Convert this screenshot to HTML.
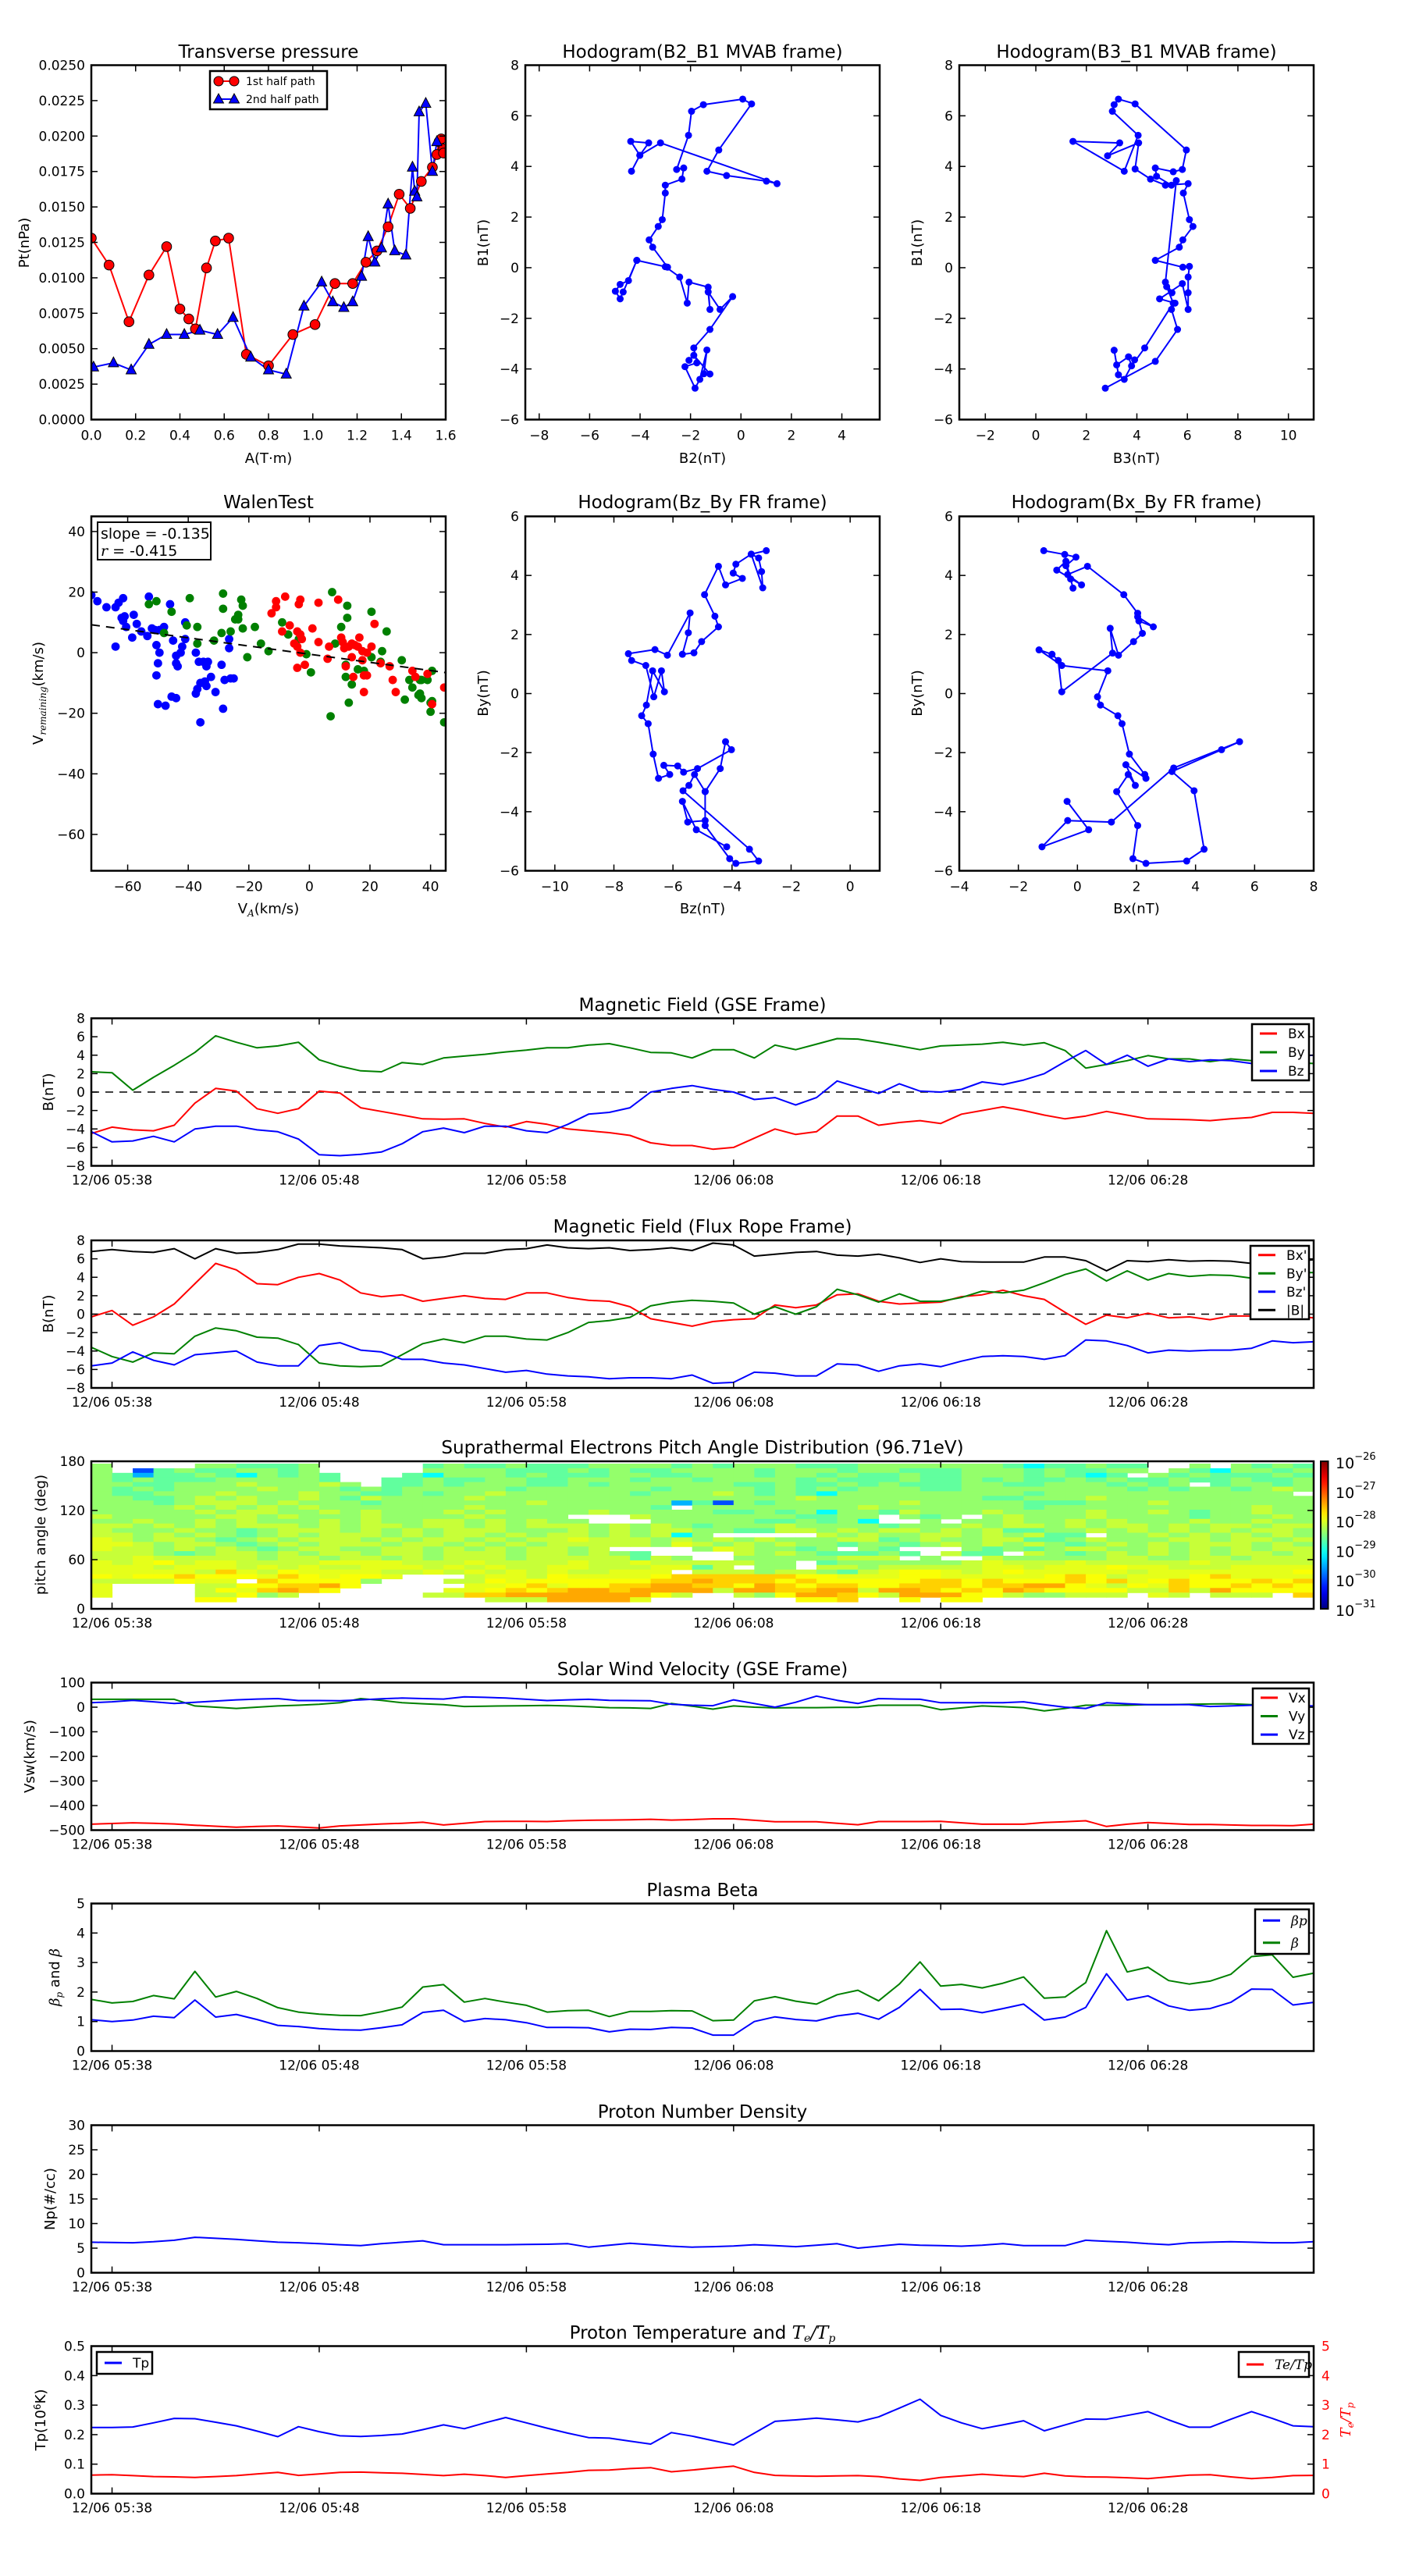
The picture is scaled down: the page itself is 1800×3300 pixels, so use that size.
<!DOCTYPE html>
<html><head><meta charset="utf-8"><title>Flux rope analysis</title>
<style>
html,body{margin:0;padding:0;background:#fff;}
svg{display:block;}
text{font-family:"DejaVu Sans","Liberation Sans",sans-serif;fill:#000;}
.ti{font-size:23px;}
.lb{font-size:18px;}
.lg{font-size:15px;}
.it{font-family:"DejaVu Serif","Liberation Serif",serif;font-style:italic;}
</style></head>
<body>
<svg id="fig" xmlns="http://www.w3.org/2000/svg" width="1800" height="3300" viewBox="0 0 1800 3300">
<rect x="0" y="0" width="1800" height="3300" fill="#fff"/>
<defs id="defs"></defs>
<text class="ti" x="344" y="74" text-anchor="middle">Transverse pressure</text>
<text class="ti" x="900" y="74" text-anchor="middle">Hodogram(B2_B1 MVAB frame)</text>
<text class="ti" x="1456" y="74" text-anchor="middle">Hodogram(B3_B1 MVAB frame)</text>
<text class="lb" x="344" y="593" text-anchor="middle">A(T·m)</text>
<text class="lb" x="900" y="593" text-anchor="middle">B2(nT)</text>
<text class="lb" x="1456" y="593" text-anchor="middle">B3(nT)</text>
<text class="lb" transform="translate(37,311) rotate(-90)" text-anchor="middle">Pt(nPa)</text>
<text class="lb" transform="translate(625,311) rotate(-90)" text-anchor="middle">B1(nT)</text>
<text class="lb" transform="translate(1181,311) rotate(-90)" text-anchor="middle">B1(nT)</text>
<text class="ti" x="344" y="651" text-anchor="middle">WalenTest</text>
<text class="ti" x="900" y="651" text-anchor="middle">Hodogram(Bz_By FR frame)</text>
<text class="ti" x="1456" y="651" text-anchor="middle">Hodogram(Bx_By FR frame)</text>
<text class="lb" x="344" y="1170" text-anchor="middle">V<tspan class="it" font-size="12" dy="4">A</tspan><tspan dy="-4">(km/s)</tspan></text>
<text class="lb" x="900" y="1170" text-anchor="middle">Bz(nT)</text>
<text class="lb" x="1456" y="1170" text-anchor="middle">Bx(nT)</text>
<text class="lb" transform="translate(55,888) rotate(-90)" text-anchor="middle">V<tspan class="it" font-size="12" dy="4">remaining</tspan><tspan dy="-4">(km/s)</tspan></text>
<text class="lb" transform="translate(625,888) rotate(-90)" text-anchor="middle">By(nT)</text>
<text class="lb" transform="translate(1181,888) rotate(-90)" text-anchor="middle">By(nT)</text>
<text class="ti" x="900" y="1295" text-anchor="middle">Magnetic Field (GSE Frame)</text>
<text class="ti" x="900" y="1579" text-anchor="middle">Magnetic Field (Flux Rope Frame)</text>
<text class="ti" x="900" y="1862" text-anchor="middle">Suprathermal Electrons Pitch Angle Distribution (96.71eV)</text>
<text class="ti" x="900" y="2146" text-anchor="middle">Solar Wind Velocity (GSE Frame)</text>
<text class="ti" x="900" y="2429" text-anchor="middle">Plasma Beta</text>
<text class="ti" x="900" y="2713" text-anchor="middle">Proton Number Density</text>
<text class="ti" x="900" y="2996" text-anchor="middle">Proton Temperature and <tspan class="it">T<tspan font-size="14" dy="4">e</tspan><tspan dy="-4">/T</tspan><tspan font-size="14" dy="4">p</tspan></tspan></text>
<text class="lb" transform="translate(68,1399) rotate(-90)" text-anchor="middle">B(nT)</text>
<text class="lb" transform="translate(68,1683) rotate(-90)" text-anchor="middle">B(nT)</text>
<text class="lb" transform="translate(58,1966) rotate(-90)" text-anchor="middle">pitch angle (deg)</text>
<text class="lb" transform="translate(44,2250) rotate(-90)" text-anchor="middle">Vsw(km/s)</text>
<text class="lb" transform="translate(76,2533) rotate(-90)" text-anchor="middle"><tspan class="it">β<tspan font-size="12" dy="4">p</tspan></tspan><tspan dy="-4"> and </tspan><tspan class="it">β</tspan></text>
<text class="lb" transform="translate(70,2817) rotate(-90)" text-anchor="middle">Np(#/cc)</text>
<text class="lb" transform="translate(58,3100) rotate(-90)" text-anchor="middle">Tp(10<tspan font-size="12" dy="-6">6</tspan><tspan dy="6">K)</tspan></text>
<text class="lb it" transform="translate(1730,3100) rotate(-90)" text-anchor="middle" fill="#ff0000" style="fill:#f00">T<tspan font-size="12" dy="4">e</tspan><tspan dy="-4">/T</tspan><tspan font-size="12" dy="4">p</tspan></text>
<g id="plots"></g>
</svg>
<script>
const ptA1 = [0.0,0.08,0.17,0.26,0.34,0.40,0.44,0.47,0.52,0.56,0.62,0.70,0.80,0.91,1.01,1.10,1.18,1.24,1.29,1.34,1.39,1.44,1.49,1.54,1.56,1.57,1.58,1.59,1.59];
const ptP1 = [0.0128,0.0109,0.0069,0.0102,0.0122,0.0078,0.0071,0.0064,0.0107,0.0126,0.0128,0.0046,0.0038,0.0060,0.0067,0.0096,0.0096,0.0111,0.0119,0.0136,0.0159,0.0149,0.0168,0.0178,0.0187,0.0196,0.0198,0.0191,0.0188];
const ptA2 = [0.01,0.10,0.18,0.26,0.34,0.42,0.49,0.57,0.64,0.72,0.80,0.88,0.96,1.04,1.09,1.14,1.18,1.22,1.25,1.28,1.31,1.34,1.37,1.42,1.45,1.46,1.47,1.48,1.51,1.54,1.56];
const ptP2 = [0.0037,0.0040,0.0035,0.0053,0.0060,0.0060,0.0063,0.0060,0.0072,0.0044,0.0035,0.0032,0.0080,0.0097,0.0083,0.0079,0.0083,0.0101,0.0129,0.0111,0.0121,0.0152,0.0119,0.0116,0.0178,0.0161,0.0157,0.0217,0.0223,0.0175,0.0196];
const hB2 = [-4.34,-4.01,-4.37,-3.66,-4.01,-3.19,1.43,1.01,-0.57,-1.35,-0.88,0.42,0.07,-1.49,-1.96,-2.08,-2.55,-2.27,-2.34,-3.0,-3.0,-3.12,-3.28,-3.64,-3.50,-2.91,-4.13,-4.46,-4.79,-4.98,-4.79,-4.67,-4.13,-3.0,-2.43,-2.13,-2.06,-1.30,-1.23,-1.30,-0.83,-0.33,-1.23,-1.87,-1.75,-2.22,-1.82,-1.63,-1.35,-1.47,-1.23,-1.87,-2.06];
const hB1a = [3.81,4.44,4.99,4.93,4.44,4.93,3.32,3.42,3.64,3.81,4.65,6.47,6.66,6.44,6.18,5.23,3.88,3.94,3.50,3.26,2.95,1.90,1.63,1.10,0.81,0.02,0.29,-0.51,-0.66,-0.93,-1.23,-0.96,0.29,0.04,-0.37,-1.40,-0.57,-0.77,-1.65,-0.96,-1.65,-1.14,-2.44,-3.17,-3.76,-3.91,-4.76,-4.41,-3.25,-4.19,-4.20,-3.46,-3.66];
const hB3 = [2.75,4.73,5.61,5.37,5.51,4.90,5.80,6.03,6.03,6.03,6.08,5.82,4.73,5.68,5.82,6.22,6.08,5.84,6.03,5.13,4.54,3.93,4.07,2.84,3.32,1.47,3.50,4.05,3.03,3.10,3.27,3.93,5.96,5.80,5.44,4.73,4.78,5.37,5.56,5.13,5.39,5.18,5.44,4.31,3.79,3.67,3.20,3.10,3.27,3.50,3.91];
const hB1b = [-4.76,-3.70,-2.44,-1.65,-1.40,-1.23,-0.63,-1.65,-0.99,-0.37,0.05,0.02,0.29,0.81,1.10,1.63,1.90,2.95,3.32,3.26,3.50,3.90,4.93,4.42,4.93,4.99,3.81,5.23,6.18,6.44,6.66,6.47,4.65,3.88,3.79,3.94,3.61,3.26,3.44,-0.57,-0.99,-0.75,-1.40,-3.17,-3.88,-3.52,-3.84,-3.26,-4.23,-4.41,-3.64];
const hBz = [-2.84,-3.35,-3.10,-3.0,-2.96,-3.35,-3.87,-3.96,-3.65,-4.22,-4.46,-4.93,-4.58,-4.46,-5.03,-5.29,-5.68,-5.48,-5.42,-6.19,-6.61,-7.51,-7.40,-6.92,-6.65,-6.39,-6.29,-6.69,-6.90,-7.06,-6.84,-6.67,-6.49,-6.11,-6.31,-5.84,-5.64,-5.17,-4.02,-4.22,-4.40,-4.91,-5.27,-5.46,-5.66,-3.41,-3.10,-3.87,-4.08,-4.91,-4.91,-4.91,-5.50,-5.68,-5.21,-4.18];
const hBy1 = [4.84,4.72,4.59,4.13,3.58,4.72,4.38,4.08,3.90,3.68,4.31,3.35,2.62,2.26,1.76,1.38,1.33,2.06,2.73,1.30,1.49,1.35,1.12,0.95,-0.11,0.77,0.06,0.77,-0.39,-0.75,-1.02,-2.05,-2.87,-2.74,-2.43,-2.45,-2.66,-2.54,-1.90,-1.63,-2.54,-3.32,-2.74,-3.11,-3.29,-5.27,-5.67,-5.75,-5.59,-4.47,-3.32,-4.30,-4.35,-3.65,-4.61,-5.19];
const hBx = [-1.14,-0.43,-0.05,-0.39,-0.23,-0.15,-0.39,-0.70,0.14,-0.33,0.34,1.57,2.04,2.04,2.57,2.08,2.20,1.90,1.39,1.11,1.19,-0.53,-0.65,-0.86,-1.30,-0.53,1.03,0.68,0.78,1.37,1.51,1.76,2.28,2.32,1.64,1.96,1.72,1.33,2.04,1.88,2.32,3.70,4.29,3.95,3.20,4.88,5.49,3.26,1.15,-0.33,-1.20,0.38,-0.35];
const hBy2 = [4.84,4.71,4.62,4.33,3.88,3.57,4.48,4.18,3.68,4.03,4.31,3.35,2.72,2.60,2.26,2.46,2.04,1.76,1.30,2.21,1.37,0.06,1.12,1.33,1.48,0.95,0.77,-0.11,-0.39,-0.75,-1.02,-2.05,-2.74,-2.87,-2.41,-3.11,-2.74,-3.32,-4.47,-5.59,-5.75,-5.67,-5.27,-3.29,-2.64,-1.90,-1.63,-2.52,-4.35,-4.30,-5.19,-4.61,-3.65];
const wBx = [-72,-70,-67,-64,-63,-61.5,-62,-61,-61.5,-60.5,-58,-57,-58.5,-64,-55.5,-53.5,-53,-52,-51,-49.5,-48,-50.5,-49.5,-50,-50.5,-50,-47.5,-46,-45,-44,-42.5,-44,-43.5,-42,-41,-41,-45.5,-44,-37.5,-36.5,-35,-34,-33.5,-36,-37,-37.5,-34.5,-34,-32.5,-31,-29,-28,-28.5,-26.5,-26.5,-26,-25,-36];
const wBy = [19,17,15,15,16.5,18,11.5,12,10.5,8.5,12.5,9.5,5,2,7,5.5,18.5,8,7.5,7.5,8.5,2.5,0,-3.5,-7.5,-17,-17.5,16,4,-1,0,-3.5,-4.5,2,10,4.5,-14.5,-15,0,-3,-3,-4.5,-3,-10,-12,-13.5,-9.5,-11,-8,-13,-4,-9,-18.5,4.5,1.5,-8.5,-8.5,-23];
const wGx = [-53,-50.5,-48,-45.5,-39.5,-40.5,-37,-37,-31.5,-29,-28.5,-28.5,-26,-24.5,-23.5,-23.5,-22.5,-22,-22,-20.5,-18,-16,-13.5,-9,-7,-3.5,-1,0.5,7.5,7,10.5,8.5,12.5,12.5,12,12,13,14,16,18,20.5,20.5,23.5,24,25.5,30.5,31.5,33,34,36,36.5,37,37,39,40,40,40.5,40.5,44.5,36.5];
const wGy = [16,17,6.5,13.5,18,9,8.5,3,4,6.5,19.5,14.5,7,11,12.5,11,17.5,15.5,8,-1.5,8.5,3,0.5,10,6,4.5,-0.5,-6.5,20,-21,8.5,3,15.5,11.5,-4,-8,-16.5,-10.5,-5.5,-6,13.5,-1.5,-3,0.5,7,-2.5,-15.5,-9,-11.5,-14,-13.5,-15,-9,-9,-16.5,-19.5,-16,-6,-23,-9];
const wRx = [-12.5,-11,-11,-8,-9,-6.5,-3,-3.5,-4,-3,-2.5,-5,-4,-3,-4,-1.5,1,3,3,6.5,6,9.5,10.5,11,11.5,13,14,14,15,16,16.5,17.5,17.5,18,19,18,14.5,19,20.5,21.5,23.5,26.5,27.5,28.5,34,35,39,40.5,44.5,12];
const wRy = [13,17,15,18.5,7,9,17.5,16,7,6,4.5,3,2,0,-5,-4,8,16.5,3.5,2,-2,17.5,5,3.5,1.5,2,3,-1.5,2.5,2,5,0.5,-2.5,-7.5,-7.5,-13,-8,0,2,9.5,-3.5,-4.5,-9,-13,-6,-8,-7,-17,-11.5,-4.5];
const walenSlope = -0.135;
const walenIntercept = -0.5;
const walenR = -0.415;
const timeTickMin = [1,11,21,31,41,51];
const timeTickLabels = ['12/06 05:38','12/06 05:48','12/06 05:58','12/06 06:08','12/06 06:18','12/06 06:28'];
const gseBx = [-4.5,-3.8,-4.1,-4.2,-3.6,-1.2,0.4,0.1,-1.8,-2.3,-1.8,0.1,-0.1,-1.7,-2.1,-2.5,-2.9,-2.95,-2.9,-3.4,-3.8,-3.2,-3.5,-4.0,-4.2,-4.4,-4.7,-5.5,-5.8,-5.8,-6.2,-6.0,-5.0,-4.0,-4.6,-4.3,-2.6,-2.6,-3.6,-3.3,-3.1,-3.4,-2.4,-2.0,-1.6,-2.0,-2.5,-2.9,-2.6,-2.1,-2.5,-2.9,-2.95,-3.0,-3.1,-2.9,-2.75,-2.2,-2.2,-2.3];
const gseBy = [2.2,2.1,0.2,1.6,2.9,4.3,6.1,5.4,4.8,5.0,5.4,3.5,2.8,2.3,2.2,3.2,3.0,3.7,3.9,4.1,4.35,4.55,4.8,4.8,5.1,5.25,4.8,4.3,4.25,3.7,4.6,4.6,3.7,5.1,4.6,5.2,5.8,5.75,5.4,5.0,4.6,5.0,5.1,5.2,5.4,5.1,5.35,4.5,2.6,3.0,3.4,3.95,3.6,3.6,3.3,3.6,3.4,3.3,3.2,3.1];
const gseBz = [-4.3,-5.4,-5.3,-4.8,-5.4,-4.0,-3.7,-3.7,-4.1,-4.3,-5.1,-6.8,-6.9,-6.75,-6.5,-5.6,-4.3,-3.9,-4.4,-3.7,-3.7,-4.2,-4.4,-3.5,-2.4,-2.2,-1.7,0.0,0.4,0.7,0.3,0.0,-0.8,-0.6,-1.4,-0.6,1.2,0.5,-0.15,0.9,0.1,0.0,0.3,1.1,0.8,1.3,2.0,3.3,4.5,3.0,4.0,2.8,3.6,3.3,3.5,3.4,3.1,3.0,3.9,4.0];
const frBx = [-0.3,0.4,-1.2,-0.3,1.1,3.3,5.5,4.8,3.3,3.2,4.0,4.4,3.7,2.3,1.9,2.1,1.4,1.7,2.0,1.7,1.6,2.3,2.3,1.8,1.5,1.4,0.8,-0.5,-0.9,-1.3,-0.8,-0.6,-0.5,1.0,0.7,1.0,2.1,2.2,1.4,1.1,1.2,1.3,1.9,2.1,2.6,2.0,1.6,0.2,-1.1,-0.1,-0.4,0.1,-0.4,-0.3,-0.6,-0.2,-0.2,-0.2,-0.2,-0.4];
const frBy = [-3.6,-4.6,-5.2,-4.2,-4.3,-2.4,-1.5,-1.8,-2.5,-2.6,-3.3,-5.3,-5.6,-5.7,-5.6,-4.4,-3.2,-2.7,-3.1,-2.4,-2.4,-2.7,-2.8,-2.0,-0.9,-0.7,-0.35,0.9,1.3,1.5,1.4,1.2,0.0,0.8,0.0,0.8,2.7,2.1,1.3,2.2,1.4,1.4,1.8,2.5,2.3,2.6,3.4,4.3,4.9,3.6,4.7,3.7,4.4,4.1,4.25,4.2,3.9,4.1,4.5,4.5];
const frBz = [-5.6,-5.3,-4.1,-5.0,-5.5,-4.4,-4.2,-4.0,-5.2,-5.6,-5.6,-3.4,-3.1,-3.9,-4.1,-4.9,-4.9,-5.3,-5.5,-5.9,-6.3,-6.1,-6.5,-6.7,-6.8,-7.0,-6.9,-6.9,-7.0,-6.6,-7.5,-7.4,-6.3,-6.4,-6.7,-6.7,-5.4,-5.5,-6.2,-5.6,-5.4,-5.7,-5.1,-4.6,-4.5,-4.6,-4.9,-4.5,-2.8,-2.9,-3.4,-4.2,-3.9,-4.0,-3.9,-3.9,-3.7,-2.9,-3.1,-3.0];
const frBt = [6.8,7.0,6.8,6.7,7.1,6.0,7.1,6.6,6.7,7.0,7.6,7.6,7.4,7.3,7.2,7.0,6.0,6.2,6.6,6.6,7.0,7.1,7.5,7.2,7.1,7.2,6.9,7.0,7.2,6.9,7.7,7.5,6.3,6.5,6.7,6.8,6.4,6.3,6.5,6.1,5.6,6.0,5.7,5.65,5.65,5.65,6.2,6.2,5.8,4.7,5.8,5.7,5.9,5.75,5.8,5.75,5.5,5.6,5.7,5.9];
const swVx = [-476,-473,-470,-472,-475,-480,-484,-488,-485,-483,-487,-491,-483,-479,-475,-472,-468,-479,-472,-465,-464,-464,-465,-462,-460,-459,-458,-456,-459,-457,-454,-454,-460,-466,-466,-466,-472,-478,-465,-465,-465,-464,-470,-476,-476,-476,-469,-466,-462,-485,-476,-469,-473,-477,-477,-479,-481,-481,-482,-476];
const swVy = [32,32,32,32,32,5,0,-5,0,5,8,12,18,35,28,18,14,10,3,4,5,6,7,5,2,-2,-3,-5,15,4,-8,5,0,-3,-2,-2,-1,-1,8,8,8,-10,-3,5,2,-2,-15,-5,8,8,8,10,10,12,13,14,10,5,3,1];
const swVz = [18,22,28,22,15,20,25,30,33,35,27,27,26,30,34,37,35,33,42,40,37,32,27,30,32,28,27,26,12,8,6,30,15,0,20,45,28,15,35,33,32,18,18,18,18,22,10,0,-5,18,14,10,10,10,3,5,8,8,6,5];
const betaTot = [1.75,1.63,1.68,1.88,1.77,2.7,1.83,2.02,1.78,1.47,1.32,1.25,1.21,1.20,1.33,1.49,2.17,2.25,1.66,1.78,1.66,1.55,1.32,1.37,1.38,1.17,1.34,1.34,1.37,1.36,1.03,1.05,1.70,1.84,1.69,1.59,1.91,2.06,1.70,2.27,3.02,2.20,2.26,2.14,2.30,2.51,1.79,1.83,2.32,4.08,2.68,2.84,2.39,2.27,2.37,2.60,3.20,3.26,2.50,2.64];
const betaP = [1.06,1.00,1.05,1.18,1.13,1.73,1.15,1.24,1.07,0.87,0.83,0.76,0.72,0.71,0.79,0.89,1.31,1.38,1.00,1.10,1.06,0.96,0.80,0.80,0.79,0.65,0.74,0.73,0.80,0.78,0.54,0.54,1.00,1.16,1.07,1.02,1.19,1.28,1.08,1.48,2.09,1.41,1.42,1.30,1.44,1.59,1.05,1.15,1.48,2.62,1.73,1.87,1.53,1.38,1.44,1.65,2.10,2.09,1.56,1.65];
const npVals = [6.2,6.15,6.1,6.3,6.6,7.2,7.0,6.8,6.5,6.2,6.1,5.9,5.7,5.5,5.9,6.2,6.5,5.7,5.7,5.7,5.7,5.75,5.8,5.9,5.2,5.6,6.0,5.7,5.4,5.2,5.3,5.45,5.7,5.5,5.3,5.6,5.9,5.0,5.4,5.8,5.6,5.5,5.4,5.6,5.9,5.5,5.5,5.5,6.6,6.4,6.2,5.9,5.7,6.1,6.2,6.3,6.2,6.1,6.1,6.3];
const tpVals = [0.224,0.224,0.226,0.240,0.255,0.254,0.242,0.230,0.212,0.193,0.227,0.210,0.196,0.194,0.197,0.202,0.217,0.233,0.220,0.240,0.258,0.240,0.222,0.205,0.190,0.188,0.178,0.168,0.207,0.195,0.180,0.165,0.205,0.245,0.250,0.256,0.250,0.243,0.260,0.290,0.320,0.265,0.240,0.220,0.233,0.247,0.213,0.233,0.253,0.252,0.265,0.278,0.250,0.225,0.225,0.252,0.278,0.255,0.230,0.227];
const tetpVals = [0.63,0.64,0.61,0.58,0.57,0.55,0.58,0.61,0.67,0.72,0.62,0.67,0.72,0.73,0.71,0.69,0.65,0.61,0.66,0.61,0.55,0.61,0.67,0.72,0.79,0.80,0.85,0.88,0.74,0.80,0.87,0.93,0.72,0.62,0.60,0.59,0.60,0.61,0.58,0.50,0.45,0.55,0.60,0.66,0.61,0.58,0.69,0.60,0.57,0.56,0.54,0.51,0.57,0.63,0.64,0.57,0.51,0.55,0.61,0.62];
const padLevelKeys = ['B','C','a','b','c','d','e','f','g','h'];
const padLevelLog = [-30.0,-29.5,-29.1,-28.65,-28.4,-28.15,-28.0,-27.9,-27.65,-27.45];
const padRows = [
"c....ccbbbc.....bcbbcbbbccccbcbcccbbbcccccccbabbcbb..c.cbcb",
"c.Bbcbbccbc.....ccccbbbcbcbbccccbcccbccbbbcccbcbbcc.cbaccbc",
"cbCbbcbacbcb...bacccbcbbbccbbcccbccbcbbcbbcccbcbab.cbcbbbcb",
"cbcbbbcccccb..bbcbbccbbcccbccbccccbcbbbcbbcbcbbcbcbbcbbcbbc",
"ccbbcccdcccdc.bbcbcccbbcbccccccbbcbbcbcbbbccbbcccbcbc.bccbc",
"cbcbccccdcccbcbcccccbccccccbccccbcbcbcccbbccccccccbcbccbcdc",
"cbbcccdcccdccbbcbccdccccccbcccdcbcbacccccccccbcccccccccccc",
"ccbbcdcdccdcbdccccdcccccccccccccccdccccccccbbcccdcccccccccc",
"cccbcdddcdcccbcccccccdccccccCbBcbccccccdcccccbbbcccdccccccc",
"ccccdcdcdcdcccccccdccccccccb.ccccccccdcccccccbccccccccccdcc",
"cccccdcddccdcdcccdcdccccdcccccbbcbcaccbdcccdccccdccdcbccdcc",
"dcccccddcdcccdccccdcccc...dcccccccbbcc.cbc.cdcccdccccbcccdc",
"ccdccdcdcccdcdccddcdcdcc...cccccbbcbca..c.ccdccdcdcccdccdcc",
"ddcdcdcdddcdcddcddcdcdddcdcdcbcccdccccbcccdcddcdcddcdcddcdd",
"dcccdccbcdddcdcdcdddcccdcdcddccbbddcdcddcdcdbbccdcdcdcdcddc",
"ddcdcdcbcdcdddcdcddcdcddcdcdac.....dcdccddcdcdbb.ccdcdcdcdc",
"edcddcbcdcdddcdcddcdcddedddcdcdcdcccddbcdccddbbcdcccddcddcd",
"eedcddcbcdcdddcddcdcdcdddddcedcdcdccbccbcdcdcdcbcdcdcdddcdc",
"eddcdcdcbcddccddcdcdcddcd....cedccbc.cb...cbcbcddccdcdcdcddc",
"dddcbcddcdcddcddcdddcddcdcb....dcdcbbbcb.dbb.dcbcdcdcdcddcd",
"ddedddddcddcddcdcdddcdddddbdc..cccccddd.c..dcccccddccddcddd",
"edefdeeddddeeeedddeddddeddedddddcc.bccccccdedddedddddeddddd",
"eeedeeedededdeeedededdeedddeebd.cc.ddcdddddeedeeefeedddeeee",
"eeeeedgedfeeeeddededededdeee.dddcddcbdeffedefeeeeedeeeeeeef",
"feffgfffegfeffe...deedfeeeefggggggffeeeffeeeeefgfdeeefgeeee",
"ddddfee.gffffc...ddfeffffffgghgggfgfffffggfgfffgfgefgfffgfg",
"e....ddffgghf.....eefgeffgghhggfhgfggffgggfgghhfedfegffgfgf",
"e....dfeghgf.....eefgfghhghhhhdhhgghhdhhgfgfhgffffddgdhffff",
"e....ddfcd......ddgghhhhhhhfd..dcfhhgfdhhhffdccddd.ed.ddd.g",
".....ff............dddhhhhe.......ffg..f.ff................"
];
const padCbarExp = [-26,-27,-28,-29,-30,-31];
</script>
<script>
const NS = 'http://www.w3.org/2000/svg';
const root = document.getElementById('plots');
const defs = document.getElementById('defs');
function mk(tag, attrs, parent){
  const e = document.createElementNS(NS, tag);
  for (const k in attrs) e.setAttribute(k, attrs[k]);
  (parent || root).appendChild(e);
  return e;
}
let clipN = 0;
function axes(name, x0, y0, w, h, xd, yd){
  const sx = v => x0 + (v - xd[0]) / (xd[1] - xd[0]) * w;
  const sy = v => y0 + h - (v - yd[0]) / (yd[1] - yd[0]) * h;
  const id = 'clip' + (clipN++);
  const cp = mk('clipPath', {id: id}, defs);
  mk('rect', {x: x0, y: y0, width: w, height: h}, cp);
  const g = mk('g', {'clip-path': 'url(#' + id + ')'});
  
  
  return {sx, sy, g, x0, y0, w, h, name};
}
function fmtMinus(s){ return String(s).replace('-', '\u2212'); }
function frame(ax, xt, xl, yt, yl, o){
  o = o || {};
  const fs = o.fs || 17, tl = 8;
  const g = mk('g', {});
  
  
  for (let i = 0; i < xt.length; i++){
    const x = ax.sx(xt[i]);
    const t1 = mk('line', {x1: x, x2: x, y1: ax.y0 + ax.h, y2: ax.y0 + ax.h - tl, stroke: '#000', 'stroke-width': 1.5}, g);
    
    
    const t2 = mk('line', {x1: x, x2: x, y1: ax.y0, y2: ax.y0 + tl, stroke: '#000', 'stroke-width': 1.5}, g);
    
    
    const tx = mk('text', {x: x, y: ax.y0 + ax.h + (o.xoff || 24), 'text-anchor': 'middle', 'font-size': fs}, g);
    
    
    tx.textContent = xl[i];
  }
  for (let i = 0; i < yt.length; i++){
    const y = ax.sy(yt[i]);
    const t1 = mk('line', {x1: ax.x0, x2: ax.x0 + tl, y1: y, y2: y, stroke: '#000', 'stroke-width': 1.5}, g);
    
    
    if (!o.noRightTicks){
      const t2 = mk('line', {x1: ax.x0 + ax.w, x2: ax.x0 + ax.w - tl, y1: y, y2: y, stroke: '#000', 'stroke-width': 1.5}, g);
      
      
    }
    const tx = mk('text', {x: ax.x0 - 8, y: y + 6, 'text-anchor': 'end', 'font-size': fs}, g);
    
    
    tx.textContent = yl[i];
  }
  const r = mk('rect', {x: ax.x0, y: ax.y0, width: ax.w, height: ax.h, fill: 'none', stroke: '#000', 'stroke-width': o.sw || 2.5}, g);
  
  
}
function range(a, b, s){ const r = []; for (let v = a; v <= b + 1e-9; v += s) r.push(+v.toFixed(6)); return r; }
function line(ax, xs, ys, color, name, w){
  const p = xs.map((x, i) => ax.sx(x).toFixed(1) + ',' + ax.sy(ys[i]).toFixed(1)).join(' ');
  const pl = mk('polyline', {points: p, fill: 'none', stroke: color, 'stroke-width': w || 2, 'stroke-linejoin': 'round'}, ax.g);
  
  
  return pl;
}
function legend(x, y, w, h, items, name){
  const g = mk('g', {});
  
  
  const r = mk('rect', {x: x, y: y, width: w, height: h, fill: '#fff', stroke: '#000', 'stroke-width': 2.5}, g);
  
  
  const step = h / items.length;
  items.forEach((it, i) => {
    const cy = y + step * (i + 0.5);
    const l = mk('line', {x1: x + 10, x2: x + 32, y1: cy, y2: cy, stroke: it[1], 'stroke-width': 3}, g);
    
    
    const t = mk('text', {x: x + 46, y: cy + 6, 'font-size': 17}, g);
    
    
    if (it[2]) t.setAttribute('class', 'it');
    t.textContent = it[0];
  });
}

(function(){
  const ax = axes('pt', 117, 83.5, 454, 454, [0, 1.6], [0, 0.025]);
  line(ax, ptA1, ptP1, '#f00', 'pt-first-half-line');
  line(ax, ptA2, ptP2, '#00f', 'pt-second-half-line');
  ptA1.forEach((a, i) => {
    const c = mk('circle', {cx: ax.sx(a), cy: ax.sy(ptP1[i]), r: 6.3, fill: '#f00', stroke: '#000', 'stroke-width': 1}, ax.g);
    
    
  });
  ptA2.forEach((a, i) => {
    const x = ax.sx(a), y = ax.sy(ptP2[i]);
    const t = mk('polygon', {points: `${x},${y-7.5} ${x-6.5},${y+5} ${x+6.5},${y+5}`, fill: '#00f', stroke: '#000', 'stroke-width': 1}, ax.g);
    
    
  });
  const xt = range(0, 1.6, 0.2), yt = range(0, 0.025, 0.0025);
  frame(ax, xt, xt.map(v => v.toFixed(1)), yt, yt.map(v => v.toFixed(4)), {xoff: 26});
  const g = mk('g', {});
  
  
  const r = mk('rect', {x: 269, y: 91, width: 150, height: 49, fill: '#fff', stroke: '#000', 'stroke-width': 2.5}, g);
  
  
  const l1 = mk('line', {x1: 280, x2: 300, y1: 104, y2: 104, stroke: '#f00', 'stroke-width': 2}, g);
  
  
  [280, 300].forEach(cx => {
    const c = mk('circle', {cx: cx, cy: 104, r: 6, fill: '#f00', stroke: '#000', 'stroke-width': 1}, g);
    
    
  });
  const l2 = mk('line', {x1: 280, x2: 300, y1: 127, y2: 127, stroke: '#00f', 'stroke-width': 2}, g);
  
  
  [280, 300].forEach(cx => {
    const t = mk('polygon', {points: `${cx},${120} ${cx-6.5},${132} ${cx+6.5},${132}`, fill: '#00f', stroke: '#000', 'stroke-width': 1}, g);
    
    
  });
  const t1 = mk('text', {x: 315, y: 109, 'font-size': 14}, g);
  
  
  t1.textContent = '1st half path';
  const t2 = mk('text', {x: 315, y: 132, 'font-size': 14}, g);
  
  
  t2.textContent = '2nd half path';
})();

function hodo(name, x0, y0, xd, yd, xs, ys, xt, yt){
  const ax = axes(name, x0, y0, 454, 454, xd, yd);
  line(ax, xs, ys, '#00f', name + '-path', 2);
  xs.forEach((x, i) => {
    const c = mk('circle', {cx: ax.sx(x), cy: ax.sy(ys[i]), r: 4.5, fill: '#00f'}, ax.g);
    
    
  });
  frame(ax, xt, xt.map(fmtMinus), yt, yt.map(fmtMinus), {xoff: 26});
}
hodo('hodo-b2b1', 673, 83.5, [-8.55, 5.5], [-6, 8], hB2, hB1a, range(-8, 4, 2), range(-6, 8, 2));
hodo('hodo-b3b1', 1229, 83.5, [-3.03, 11], [-6, 8], hB3, hB1b, range(-2, 10, 2), range(-6, 8, 2));
hodo('hodo-bzby', 673, 661.5, [-11, 1], [-6, 6], hBz, hBy1, range(-10, 0, 2), range(-6, 6, 2));
hodo('hodo-bxby', 1229, 661.5, [-4, 8], [-6, 6], hBx, hBy2, range(-4, 8, 2), range(-6, 6, 2));

(function(){
  const ax = axes('walen', 117, 661.5, 454, 454, [-72, 45], [-72, 45]);
  [[wBx, wBy, '#00f', 'walen-blue-point'], [wGx, wGy, '#008000', 'walen-green-point'], [wRx, wRy, '#f00', 'walen-red-point']].forEach(s => {
    s[0].forEach((x, i) => {
      const c = mk('circle', {cx: ax.sx(x), cy: ax.sy(s[1][i]), r: 5.4, fill: s[2]}, ax.g);
      
      
    });
  });
  const fx = [-72, 45];
  const fl = mk('line', {x1: ax.sx(fx[0]), y1: ax.sy(walenSlope * fx[0] + walenIntercept), x2: ax.sx(fx[1]), y2: ax.sy(walenSlope * fx[1] + walenIntercept), stroke: '#000', 'stroke-width': 2, 'stroke-dasharray': '11,8'}, ax.g);
  
  
  const xt = range(-60, 40, 20), yt = range(-60, 40, 20);
  frame(ax, xt, xt.map(fmtMinus), yt, yt.map(fmtMinus), {xoff: 26});
  const b = mk('rect', {x: 125, y: 669, width: 145, height: 48, fill: '#fff', stroke: '#000', 'stroke-width': 2});
  
  
  const t1 = mk('text', {x: 129, y: 690, 'font-size': 19});
  
  
  t1.textContent = 'slope = ' + walenSlope.toFixed(3);
  const t2 = mk('text', {x: 129, y: 712, 'font-size': 19});
  
  
  t2.innerHTML = '<tspan class="it">r</tspan> = ' + walenR.toFixed(3);
})();

const TX0 = 117, TW = 1566, TH = 189;
const tIdx = gseBx.map((_, i) => i);
function tpanel(name, top, yd, yt, yl, o){
  const ax = axes(name, TX0, top, TW, TH, [0, 59], yd);
  ax.fin = () => frame(ax, timeTickMin, timeTickLabels, yt, yl, Object.assign({fs: 17, xoff: 24}, o || {}));
  return ax;
}
function zeroLine(ax){
  const z = mk('line', {x1: ax.x0, x2: ax.x0 + ax.w, y1: ax.sy(0), y2: ax.sy(0), stroke: '#000', 'stroke-width': 1.5, 'stroke-dasharray': '10,8'}, ax.g);
  
  
}
const bTicks = range(-8, 8, 2);
(function(){
  const ax = tpanel('gse', 1304.5, [-8, 8], bTicks, bTicks.map(fmtMinus));
  zeroLine(ax);
  line(ax, tIdx, gseBx, '#f00', 'gse-bx-line');
  line(ax, tIdx, gseBy, '#008000', 'gse-by-line');
  line(ax, tIdx, gseBz, '#00f', 'gse-bz-line');
  ax.fin();
  legend(1604, 1312, 73, 72, [['Bx', '#f00'], ['By', '#008000'], ['Bz', '#00f']], 'gse-legend');
})();
(function(){
  const ax = tpanel('fr', 1589, [-8, 8], bTicks, bTicks.map(fmtMinus));
  zeroLine(ax);
  line(ax, tIdx, frBx, '#f00', 'fr-bx-line');
  line(ax, tIdx, frBy, '#008000', 'fr-by-line');
  line(ax, tIdx, frBz, '#00f', 'fr-bz-line');
  line(ax, tIdx, frBt, '#000', 'fr-btotal-line');
  ax.fin();
  legend(1602, 1596, 75, 94, [["Bx'", '#f00'], ["By'", '#008000'], ["Bz'", '#00f'], ['|B|', '#000']], 'fr-legend');
})();
(function(){
  const ax = axes('pad', TX0, 1872, TW, TH, [0, 59], [0, 180]);
  const jet = v => {
    const c = x => Math.max(0, Math.min(1, x));
    const r = c(1.5 - Math.abs(4 * v - 3)), g = c(1.5 - Math.abs(4 * v - 2)), b = c(1.5 - Math.abs(4 * v - 1));
    return `rgb(${Math.round(r * 255)},${Math.round(g * 255)},${Math.round(b * 255)})`;
  };
  const y0c = 1875, rowH = 177 / padRows.length;
  padRows.forEach((row, ri) => {
    for (let ci = 0; ci < 59; ci++){
      const k = padLevelKeys.indexOf(row.charAt(ci));
      if (k < 0) continue;
      const v = (padLevelLog[k] + 31) / 5;
      const r = mk('rect', {x: ax.sx(ci).toFixed(2), y: (y0c + ri * rowH).toFixed(2), width: (ax.sx(1) - ax.sx(0) + 0.6).toFixed(2), height: (rowH + 0.6).toFixed(2), fill: jet(v)}, ax.g);
      
      
    }
  });
  frame(ax, timeTickMin, timeTickLabels, [0, 60, 120, 180], ['0', '60', '120', '180'], {fs: 17, xoff: 24});
  const gid = 'jetgrad';
  const lg = mk('linearGradient', {id: gid, x1: 0, y1: 1, x2: 0, y2: 0}, defs);
  for (let i = 0; i <= 20; i++){
    mk('stop', {offset: i / 20, 'stop-color': jet(i / 20)}, lg);
  }
  const cb = mk('rect', {x: 1692, y: 1872, width: 9.5, height: 189, fill: 'url(#' + gid + ')', stroke: '#000', 'stroke-width': 2});
  
  
  padCbarExp.forEach((e, i) => {
    const y = 1872 + i * 189 / 5;
    const t = mk('text', {x: 1711, y: y + 9, 'font-size': 19});
    
    
    t.innerHTML = '10<tspan font-size="13" dy="-11">' + fmtMinus(e) + '</tspan>';
  });
})();
(function(){
  const yt = range(-500, 100, 100);
  const ax = tpanel('sw', 2155.5, [-500, 100], yt, yt.map(fmtMinus));
  line(ax, tIdx, swVx, '#f00', 'sw-vx-line');
  line(ax, tIdx, swVy, '#008000', 'sw-vy-line');
  line(ax, tIdx, swVz, '#00f', 'sw-vz-line');
  ax.fin();
  legend(1605, 2163, 72, 71, [['Vx', '#f00'], ['Vy', '#008000'], ['Vz', '#00f']], 'sw-legend');
})();
(function(){
  const yt = range(0, 5, 1);
  const ax = tpanel('beta', 2438.5, [0, 5], yt, yt.map(String));
  line(ax, tIdx, betaP, '#00f', 'beta-p-line');
  line(ax, tIdx, betaTot, '#008000', 'beta-total-line');
  ax.fin();
  legend(1608, 2446, 69, 57, [['βp', '#00f', 1], ['β', '#008000', 1]], 'beta-legend');
})();
(function(){
  const yt = range(0, 30, 5);
  const ax = tpanel('np', 2722.5, [0, 30], yt, yt.map(String));
  line(ax, tIdx, npVals, '#00f', 'np-line');
  ax.fin();
})();
(function(){
  const yt = range(0, 0.5, 0.1);
  const ax = tpanel('temp', 3005.5, [0, 0.5], yt, yt.map(v => v.toFixed(1)), {noRightTicks: true});
  const ax2 = {sx: ax.sx, sy: v => ax.y0 + ax.h - v / 5 * ax.h, g: ax.g};
  line(ax, tIdx, tpVals, '#00f', 'tp-line');
  line(ax2, tIdx, tetpVals, '#f00', 'tetp-line');
  ax.fin();
  range(0, 5, 1).forEach(v => {
    const y = ax2.sy(v);
    const t1 = mk('line', {x1: ax.x0 + ax.w, x2: ax.x0 + ax.w - 8, y1: y, y2: y, stroke: '#000', 'stroke-width': 1.5});
    
    
    const t = mk('text', {x: 1693, y: y + 6, 'font-size': 17, fill: '#f00', style: 'fill:#f00'});
    
    
    t.textContent = String(v);
  });
  legend(124, 3013, 71, 28, [['Tp', '#00f']], 'tp-legend');
  legend(1587, 3013, 90, 32, [['Te/Tp', '#f00', 1]], 'tetp-legend');
})();
</script>
</body></html>
